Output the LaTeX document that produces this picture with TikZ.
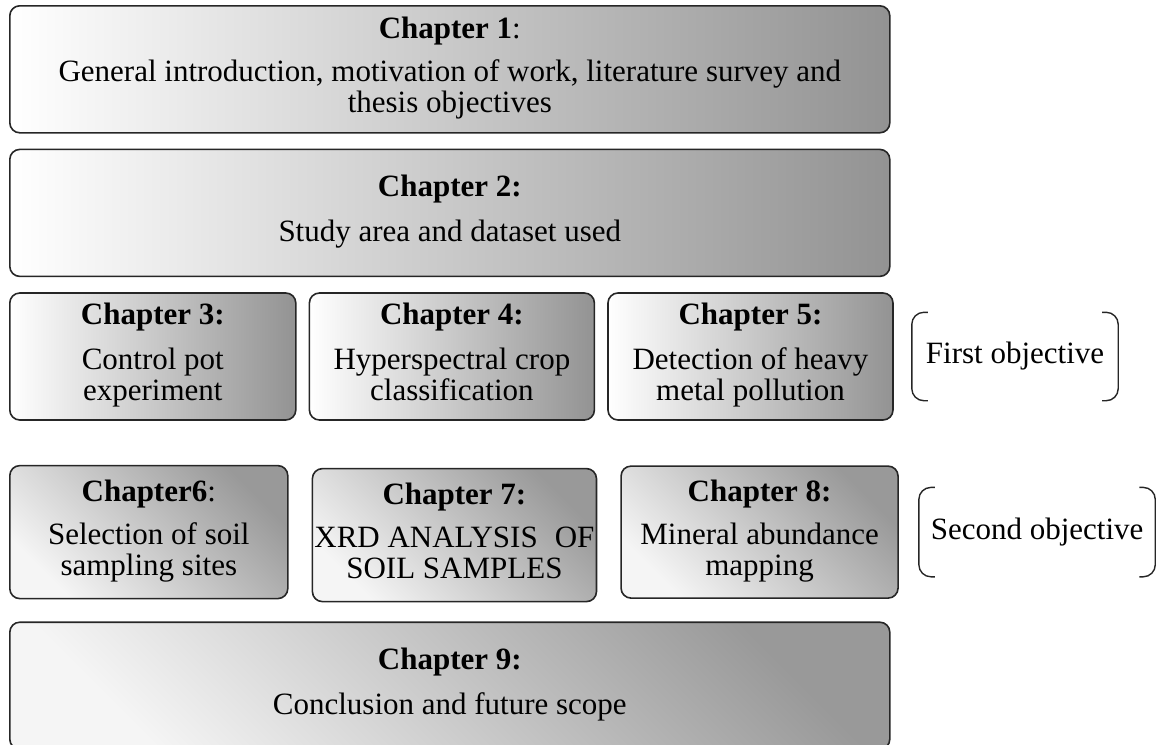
\documentclass[tikz,border=0pt]{standalone}
\usepackage{fontspec}
\setmainfont{Liberation Serif}
\usepackage{tikz}
\usetikzlibrary{positioning}

\begin{document}
\begin{tikzpicture}[
  chap/.style={draw=black!85, line width=1.6pt, rounded corners=10pt, align=center, inner sep=2pt, font=\fontsize{31}{31}\selectfont},
  flat/.style={chap, left color=white, right color=gray!85},
  diag/.style={chap, top color=gray!80, bottom color=gray!8, shading angle=-45},
  obj/.style={align=center, inner sep=0pt, font=\fontsize{31}{31}\selectfont},
  brk/.style={draw=black!85, line width=1.4pt, rounded corners=12pt}
]
\useasboundingbox (0,0) rectangle (1156pt,-744pt);
\node[flat, anchor=north west, minimum width=880pt, minimum height=127pt] (ch1) at (9pt,-5pt)
  {\textbf{Chapter 1}:\\[12pt]General introduction, motivation of work, literature survey and\\thesis objectives\strut};
\node[flat, minimum width=880pt, minimum height=127pt, below=15pt of ch1] (ch2)
  {\textbf{Chapter 2:}\\[14pt]Study area and dataset used\strut};
\node[flat, minimum width=286pt, minimum height=127pt, below=15pt of ch2.south west, anchor=north west] (ch3)
  {\textbf{Chapter 3:}\\[14pt]Control pot\\experiment\strut};
\node[flat, minimum width=285pt, minimum height=127pt, right=12pt of ch3] (ch4)
  {\textbf{Chapter 4:}\\[14pt]Hyperspectral crop\\classification\strut};
\node[flat, minimum width=285pt, minimum height=127pt, right=12pt of ch4] (ch5)
  {\textbf{Chapter 5:}\\[14pt]Detection of heavy\\metal pollution\strut};
\node[diag, minimum width=278pt, minimum height=133pt, below=44pt of ch3.south west, anchor=north west] (ch6)
  {\textbf{Chapter6}:\\[12pt]Selection of soil\\sampling sites\strut};
\node[diag, minimum width=278pt, minimum height=133pt, right=23pt of ch6, yshift=-3pt] (ch7)
  {\textbf{Chapter 7:}\\[12pt]XRD ANALYSIS\hspace{0.3em} OF\\SOIL SAMPLES\strut};
\node[diag, minimum width=277pt, minimum height=132pt, right=23pt of ch7, yshift=3pt] (ch8)
  {\textbf{Chapter 8:}\\[12pt]Mineral abundance\\mapping\strut};
\node[diag, minimum width=880pt, minimum height=127pt, below=22pt of ch6.south west, anchor=north west] (ch9)
  {\textbf{Chapter 9:}\\[14pt]Conclusion and future scope\strut};
\node[obj, minimum width=206pt, minimum height=88pt, right=18pt of ch5] (obj1) {First objective};
\node[obj, minimum width=236pt, minimum height=89pt, right=20pt of ch8] (obj2) {Second objective};
\draw[brk] ([xshift=16pt]obj1.north west) -- (obj1.north west) -- (obj1.south west) -- ([xshift=16pt]obj1.south west);
\draw[brk] ([xshift=-16pt]obj1.north east) -- (obj1.north east) -- (obj1.south east) -- ([xshift=-16pt]obj1.south east);
\draw[brk] ([xshift=16pt]obj2.north west) -- (obj2.north west) -- (obj2.south west) -- ([xshift=16pt]obj2.south west);
\draw[brk] ([xshift=-16pt]obj2.north east) -- (obj2.north east) -- (obj2.south east) -- ([xshift=-16pt]obj2.south east);
\end{tikzpicture}
\end{document}
